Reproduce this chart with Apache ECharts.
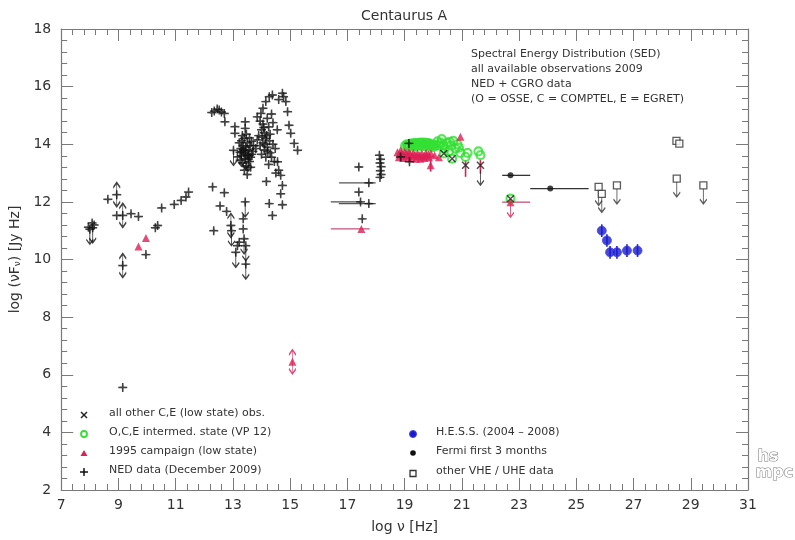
<!DOCTYPE html>
<html>
<head>
<meta charset="utf-8">
<title>Centaurus A SED</title>
<script src="https://cdn.jsdelivr.net/npm/echarts@6/dist/echarts.min.js"></script>
<style>
  html, body { margin: 0; padding: 0; background: #fff; }
  #chart { width: 795px; height: 540px; }
</style>
</head>
<body>
<div id="chart"></div>
<script>
// ---- data (log nu [Hz], log nuF_nu [Jy Hz]) ----
var nedPoints = [
  [7.95, 11.12], [8.08, 11.27], [8.15, 11.20], [8.63, 12.09], [8.94, 11.53], [9.44, 11.59], [9.70, 11.49],
  [9.96, 10.17], [10.29, 11.10], [10.37, 11.18], [10.51, 11.79], [10.95, 11.91], [11.19, 12.05],
  [11.36, 12.17], [11.45, 12.34], [9.15, 5.56],
  [12.29, 12.52], [12.70, 12.32], [12.55, 11.86], [12.78, 11.67], [12.33, 11.00], [13.36, 11.41],
  [13.36, 11.06], [13.22, 10.60], [13.16, 10.48], [13.16, 13.56],
  [12.26, 15.10], [12.35, 15.15], [12.45, 15.22], [12.52, 15.19], [12.60, 15.12], [12.70, 15.07],
  [12.72, 14.78], [13.07, 14.61], [13.07, 14.38], [13.43, 14.78], [13.43, 14.55], [13.98, 15.07],
  [13.22, 14.05], [13.30, 14.12], [13.35, 13.95], [13.40, 14.20], [13.28, 13.85], [13.45, 13.90],
  [13.50, 14.05], [13.38, 13.70], [13.55, 13.80], [13.30, 13.60], [13.42, 13.50], [13.60, 13.95],
  [13.52, 13.62], [13.35, 13.35], [13.48, 13.25], [13.58, 13.40], [13.40, 13.10], [13.50, 12.95],
  [13.62, 13.20], [13.25, 13.45], [13.65, 14.10], [13.70, 13.75],
  [13.33, 14.30], [13.47, 14.35], [13.58, 14.22], [13.25, 13.72], [13.62, 13.55], [13.72, 13.95],
  [13.44, 13.78], [13.36, 13.82], [13.54, 13.48], [13.66, 13.65],
  [13.85, 14.95], [13.95, 14.80], [14.05, 14.70], [14.00, 14.50], [14.10, 14.40], [13.90, 14.30],
  [14.15, 14.20], [14.05, 14.05], [13.95, 13.95], [14.20, 13.90], [14.10, 13.80], [14.25, 14.60],
  [14.30, 14.35], [14.20, 14.90], [14.35, 15.05], [14.00, 13.65], [14.15, 13.55], [14.30, 13.70],
  [14.40, 14.00], [14.45, 13.40], [14.25, 13.30], [13.80, 13.85], [13.85, 14.15], [14.40, 14.75],
  [14.55, 14.50], [14.08, 14.58], [14.18, 14.30], [14.12, 14.00], [14.28, 14.12], [14.02, 14.25],
  [14.22, 13.75], [14.35, 13.55], [14.48, 13.85],
  [14.05, 15.25], [14.15, 15.48], [14.27, 15.65], [14.38, 15.71], [14.73, 15.77], [14.77, 15.65],
  [14.85, 15.48], [14.91, 15.13], [14.60, 15.55],
  [14.96, 14.66], [15.02, 14.38], [15.14, 14.03], [15.26, 13.79], [14.56, 13.39], [14.67, 12.92],
  [14.73, 12.57], [14.67, 12.28], [14.17, 12.71], [14.27, 11.94], [14.38, 11.53], [14.73, 11.90],
  [14.60, 13.10], [14.50, 13.00],
  [17.40, 13.21], [17.40, 12.34], [17.75, 12.66], [17.46, 12.00], [17.75, 11.94], [17.52, 11.41],
  [18.12, 13.62], [18.16, 13.48], [18.14, 13.35], [18.18, 13.22], [18.15, 13.08], [18.18, 12.95],
  [18.14, 12.85], [18.86, 13.56], [19.17, 13.39], [19.15, 14.03]
];
var nedUpper = [
  [8.00, 11.05], [8.10, 11.10], [12.95, 11.00], [13.02, 13.79], [13.43, 12.00], [13.39, 10.72],
  [13.45, 10.48], [13.10, 10.25], [13.45, 9.84], [13.30, 13.75], [13.45, 13.65], [13.55, 13.60]
];
var nedBoth = [[8.94, 12.25], [9.15, 11.53], [9.15, 9.79], [12.93, 11.18]];

var interPoints = [
  [19.02, 13.95], [19.08, 14.00], [19.14, 13.98], [19.20, 14.02], [19.26, 14.00], [19.32, 14.04],
  [19.38, 14.02], [19.44, 14.05], [19.50, 14.03], [19.56, 14.06], [19.62, 14.04], [19.68, 14.06],
  [19.74, 14.03], [19.80, 14.05], [19.86, 14.02], [19.92, 14.00], [19.98, 13.98], [20.04, 13.95],
  [19.10, 13.90], [19.25, 13.92], [19.40, 13.93], [19.55, 13.94], [19.70, 13.93], [19.85, 13.92],
  [20.00, 13.90], [19.15, 13.95], [19.30, 13.97], [19.45, 13.98], [19.60, 13.99],
  [19.75, 13.98], [19.90, 13.95],
  [20.15, 14.10], [20.22, 13.95], [20.30, 14.18], [20.40, 13.85], [20.48, 14.05],
  [20.55, 13.75], [20.62, 13.95], [20.70, 14.12], [20.78, 13.85], [20.85, 14.00], [20.95, 13.70],
  [20.10, 13.98], [20.26, 14.05], [20.35, 13.98], [20.58, 14.08], [20.90, 13.88],
  [21.13, 13.56], [21.20, 13.70], [21.65, 13.62], [21.58, 13.75], [20.37, 13.68], [20.66, 13.50],
  [22.70, 12.11]
];
var campaignPoints = [
  [18.75, 13.72], [18.82, 13.65], [18.90, 13.70], [18.98, 13.60], [19.05, 13.68], [19.12, 13.62],
  [19.20, 13.66], [19.28, 13.60], [19.36, 13.64], [19.44, 13.58], [19.52, 13.62], [19.60, 13.57],
  [19.68, 13.62], [19.76, 13.60], [19.84, 13.65], [19.92, 13.68], [19.00, 13.74], [19.15, 13.72],
  [19.30, 13.70], [19.45, 13.69], [19.60, 13.69], [19.75, 13.70], [18.86, 13.79], [18.80, 13.55],
  [18.95, 13.52], [19.10, 13.54], [19.25, 13.52], [19.40, 13.50], [19.55, 13.50], [19.70, 13.52],
  [19.85, 13.55], [19.91, 13.27],
  [20.95, 14.26], [20.05, 13.62], [20.20, 13.55], [9.70, 10.45], [9.96, 10.75], [17.49, 11.06]
];
var campaignUpper = [[22.70, 11.99]];
var campaignBoth = [[15.08, 6.45]];
var campaignVBars = [[21.13, 12.87, 13.45], [21.65, 12.98, 13.45], [19.91, 13.05, 13.50]];
var campaignHBars = [[16.42, 17.78, 11.06], [22.41, 23.39, 11.99]];

var lowStatePoints = [[20.37, 13.68], [20.66, 13.50], [21.13, 13.27], [21.65, 13.27], [22.70, 12.11]];
var lowStateUpper = [[21.65, 13.10]];

var nedHBars = [[16.71, 17.99, 12.66], [16.42, 17.46, 12.00], [16.70, 17.99, 11.94]];

var hessPoints = [[25.89, 11.00], [26.07, 10.66], [26.18, 10.25], [26.42, 10.25], [26.77, 10.31], [27.14, 10.31]];
var hessErr = 0.22;

var fermiPoints = [[22.70, 12.92], [24.09, 12.46]];
var fermiHBars = [[22.41, 23.39, 12.92], [23.39, 25.43, 12.46]];

var vheUpper = [[25.78, 12.52], [25.89, 12.28], [26.42, 12.57], [28.51, 12.81], [29.44, 12.57]];
var vhePoints = [[28.50, 14.12], [28.60, 14.02]];

var xTicks = [7, 31, 2];
var yTicks = [2, 18, 2];

// ---- symbols ----
var PLUS = 'path://M4.2,0L5.8,0L6,4L10,4.2L10,5.8L6,6L5.8,10L4.2,10L4,6L0,5.8L0,4.2L4,4Z';
var ARROW_DOWN = 'path://M4,0L4,16M0,11L4,16L8,11';
var ARROW_BOTH = 'path://M4,0L4,24M0,5L4,0L8,5M0,19L4,24L8,19';
var CROSS = 'path://M0,0L10,10M10,0L0,10';

var RED = '#dc1f55';
var GREEN = '#33e033';
var BLUE = '#1a1acc';
var AXIS = '#7a7a7a';
var TXT = '#333';

function hbar(data, color, w) {
  return {
    type: 'custom', data: data, z: 1, silent: true,
    encode: { x: [0, 1], y: 2 },
    renderItem: function (params, api) {
      var a = api.coord([api.value(0), api.value(2)]);
      var b = api.coord([api.value(1), api.value(2)]);
      return { type: 'line', shape: { x1: a[0], y1: a[1], x2: b[0], y2: b[1] },
               style: { stroke: color, lineWidth: w || 1.3 } };
    }
  };
}
function vbar(data, color) {
  return {
    type: 'custom', data: data, z: 1, silent: true,
    encode: { x: 0, y: [1, 2] },
    renderItem: function (params, api) {
      var a = api.coord([api.value(0), api.value(1)]);
      var b = api.coord([api.value(0), api.value(2)]);
      return { type: 'line', shape: { x1: a[0], y1: a[1], x2: b[0], y2: b[1] },
               style: { stroke: color, lineWidth: 1.6 } };
    }
  };
}
function arrows(data, color, both) {
  return {
    type: 'scatter', data: data, z: 2, silent: true,
    symbol: both ? ARROW_BOTH : ARROW_DOWN,
    symbolSize: both ? [7, 24] : [7, 15],
    symbolOffset: both ? [0, 0] : [0, '50%'],
    itemStyle: { color: 'none', borderColor: color, borderWidth: 1.3 }
  };
}

var hessBars = hessPoints.map(function (p) { return [p[0], p[1] - hessErr, p[1] + hessErr]; });

var chart = echarts.init(document.getElementById('chart'));

var axisCommon = {
  axisLine: { lineStyle: { color: AXIS, width: 1.2 } },
  axisTick: { inside: true, length: 12, lineStyle: { color: AXIS } },
  minorTick: { show: true, splitNumber: 5, length: 6, lineStyle: { color: AXIS } },
  splitLine: { show: false }
};

var option = {
  backgroundColor: '#fff',
  animation: false,
  textStyle: { fontFamily: 'DejaVu Sans' },
  title: {
    text: 'Centaurus A', left: 356, top: 4,
    textStyle: { fontSize: 14, fontWeight: 'normal', color: TXT }
  },
  grid: { left: 60, right: 47, top: 29, bottom: 50 },
  xAxis: [
    Object.assign({
      type: 'value', min: xTicks[0], max: xTicks[1], interval: xTicks[2],
      name: 'log \u03bd [Hz]', nameLocation: 'middle', nameGap: 30,
      nameTextStyle: { fontSize: 14, color: TXT },
      axisLabel: { fontSize: 14, color: TXT, margin: 8 }
    }, axisCommon),
    Object.assign({
      type: 'value', position: 'top', min: xTicks[0], max: xTicks[1], interval: xTicks[2],
      axisLabel: { show: false }
    }, axisCommon)
  ],
  yAxis: [
    Object.assign({
      type: 'value', min: yTicks[0], max: yTicks[1], interval: yTicks[2],
      name: '{a|log (\u03bdF}{s|\u03bd}{a|) [Jy Hz]}', nameLocation: 'middle', nameGap: 36,
      nameRotate: 90,
      nameTextStyle: { color: TXT, rich: {
        a: { fontSize: 14, color: TXT },
        s: { fontSize: 9, color: TXT, verticalAlign: 'bottom', padding: [6, 0, 0, 0] }
      } },
      axisLabel: { fontSize: 14, color: TXT, margin: 10 }
    }, axisCommon),
    Object.assign({
      type: 'value', position: 'right', min: yTicks[0], max: yTicks[1], interval: yTicks[2],
      axisLabel: { show: false }
    }, axisCommon)
  ],
  series: [
    hbar(nedHBars, '#555'),
    hbar(campaignHBars, '#c9507a'),
    hbar(fermiHBars, '#333'),
    vbar(campaignVBars, RED),
    vbar(hessBars, BLUE),
    {
      name: 'O,C,E intermed. state (VP 12)', type: 'scatter', data: interPoints, z: 3,
      symbol: 'circle', symbolSize: 8,
      itemStyle: { color: 'none', borderColor: GREEN, borderWidth: 2.2 }
    },
    {
      name: '1995 campaign (low state)', type: 'scatter', data: campaignPoints.concat(campaignUpper, campaignBoth), z: 4,
      symbol: 'triangle', symbolSize: 8, itemStyle: { color: RED }
    },
    arrows(campaignUpper, RED, false),
    arrows(campaignBoth, RED, true),
    {
      name: 'NED data (December 2009)', type: 'scatter', data: nedPoints.concat(nedUpper, nedBoth), z: 5,
      symbol: PLUS, symbolSize: 9, itemStyle: { color: '#111' }
    },
    arrows(nedUpper, '#111', false),
    arrows(nedBoth, '#111', true),
    {
      name: 'all other C,E (low state) obs.', type: 'scatter', data: lowStatePoints, z: 5,
      symbol: CROSS, symbolSize: 7,
      itemStyle: { color: 'none', borderColor: '#222', borderWidth: 1.5 }
    },
    arrows(lowStateUpper, '#222', false),
    {
      name: 'H.E.S.S. (2004 - 2008)', type: 'scatter', data: hessPoints, z: 5,
      symbol: 'circle', symbolSize: 9, itemStyle: { color: BLUE, borderColor: '#4444ee', borderWidth: 1 }
    },
    {
      name: 'Fermi first 3 months', type: 'scatter', data: fermiPoints, z: 5,
      symbol: 'circle', symbolSize: 6, itemStyle: { color: '#111' }
    },
    {
      name: 'other VHE / UHE data', type: 'scatter', data: vheUpper.concat(vhePoints), z: 5,
      symbol: 'rect', symbolSize: 7,
      itemStyle: { color: '#fff', borderColor: '#333', borderWidth: 1.3 }
    },
    arrows(vheUpper.map(function (p) { return [p[0], p[1] - 0.12]; }), '#333', false)
  ],
  graphic: [
    {
      type: 'text', left: 471, top: 46,
      style: {
        text: 'Spectral Energy Distribution (SED)\nall available observations 2009\nNED + CGRO data\n(O = OSSE, C = COMPTEL, E = EGRET)',
        fontSize: 11, lineHeight: 15.3, fill: TXT, fontFamily: 'DejaVu Sans'
      }
    },
    // left legend
    { type: 'polyline', shape: { points: [[81, 412], [87, 418]] }, style: { stroke: '#222', lineWidth: 1.4 } },
    { type: 'polyline', shape: { points: [[87, 412], [81, 418]] }, style: { stroke: '#222', lineWidth: 1.4 } },
    { type: 'text', left: 109, top: 408, style: { text: 'all other C,E (low state) obs.', fontSize: 11, fill: TXT, fontFamily: 'DejaVu Sans' } },
    { type: 'circle', shape: { cx: 84, cy: 434, r: 3 }, style: { fill: 'none', stroke: GREEN, lineWidth: 1.8 } },
    { type: 'text', left: 109, top: 427, style: { text: 'O,C,E intermed. state (VP 12)', fontSize: 11, fill: TXT, fontFamily: 'DejaVu Sans' } },
    { type: 'polygon', shape: { points: [[84, 450], [87.5, 456], [80.5, 456]] }, style: { fill: RED } },
    { type: 'text', left: 109, top: 446, style: { text: '1995 campaign (low state)', fontSize: 11, fill: TXT, fontFamily: 'DejaVu Sans' } },
    { type: 'polygon', shape: { points: [[83.3, 468], [84.7, 468], [84.8, 471.3], [88, 471.3], [88, 472.7], [84.8, 472.7], [84.7, 476], [83.3, 476], [83.2, 472.7], [80, 472.7], [80, 471.3], [83.2, 471.3]] }, style: { fill: '#111' } },
    { type: 'text', left: 109, top: 465, style: { text: 'NED data (December 2009)', fontSize: 11, fill: TXT, fontFamily: 'DejaVu Sans' } },
    // right legend
    { type: 'circle', shape: { cx: 413, cy: 434, r: 3.5 }, style: { fill: BLUE, stroke: '#4444ee', lineWidth: 1 } },
    { type: 'text', left: 436, top: 427, style: { text: 'H.E.S.S. (2004 \u2013 2008)', fontSize: 11, fill: TXT, fontFamily: 'DejaVu Sans' } },
    { type: 'circle', shape: { cx: 413, cy: 453, r: 2.8 }, style: { fill: '#111' } },
    { type: 'text', left: 436, top: 446, style: { text: 'Fermi first 3 months', fontSize: 11, fill: TXT, fontFamily: 'DejaVu Sans' } },
    { type: 'rect', shape: { x: 410, y: 470.5, width: 6, height: 6 }, style: { fill: '#fff', stroke: '#333', lineWidth: 1.3 } },
    { type: 'text', left: 436, top: 466, style: { text: 'other VHE / UHE data', fontSize: 11, fill: TXT, fontFamily: 'DejaVu Sans' } },
    // logo
    { type: 'text', left: 757, top: 448, style: { text: 'hs', fontSize: 16, fontWeight: 'bold', fill: '#fff', stroke: '#777', lineWidth: 1, fontFamily: 'DejaVu Sans' } },
    { type: 'text', left: 755, top: 464, style: { text: 'mpc', fontSize: 16, fontWeight: 'bold', fill: '#fff', stroke: '#777', lineWidth: 1, fontFamily: 'DejaVu Sans' } }
  ]
};

chart.setOption(option);
</script>
</body>
</html>
